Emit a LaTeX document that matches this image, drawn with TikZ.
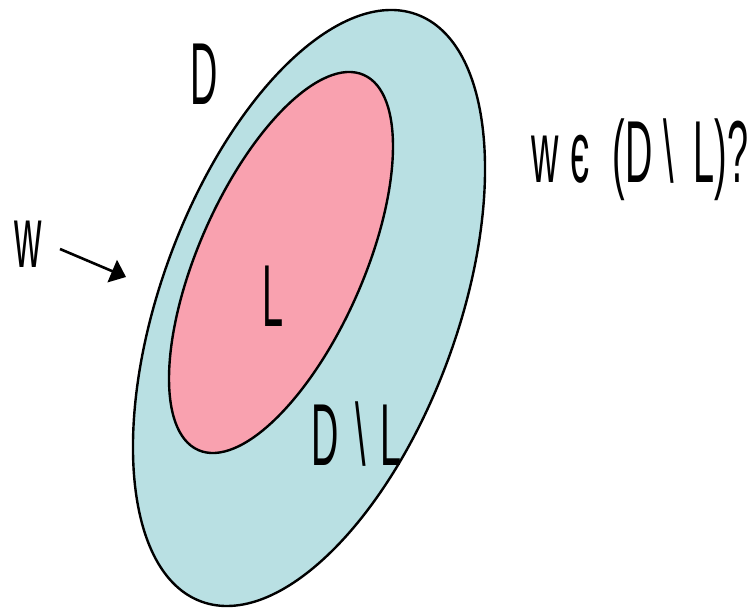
\documentclass[tikz,border=0pt]{standalone}
\usepackage{fontspec}
\usepackage{graphicx}
\setmainfont{Liberation Sans}
\usetikzlibrary{arrows.meta}
\definecolor{outerblue}{HTML}{B9E0E3}
\definecolor{innerpink}{HTML}{F9A1AF}
\newcommand{\narrow}[1]{\scalebox{0.43}[1]{\fontsize{88}{100}\selectfont #1}}
\tikzset{
  region/.style={draw=black, line width=2.4pt},
  lbl/.style={inner sep=0pt, outer sep=0pt, anchor=base},
  lblw/.style={inner sep=0pt, outer sep=0pt, anchor=base west},
  pointer/.style={line width=2.6pt, -{Triangle[length=15pt,width=24pt]}}
}
\begin{document}
\begin{tikzpicture}[x=1pt,y=1pt]
\useasboundingbox (0,0) rectangle (748,608);
% sets
\draw[region, fill=outerblue] (309,300) ellipse[x radius=312.7pt, y radius=148.3pt, rotate=69.85];
\draw[region, fill=innerpink] (281,345.5) ellipse[x radius=205pt, y radius=82.5pt, rotate=66.2];
% labels
\node[lbl] (dlab) at (204,503) {\narrow{D}};
\node[lbl] (llab) at (273,281) {\narrow{L}};
\node[lblw] (dllab) at (311,142) {\narrow{D\hspace{0.45em}\textbackslash\hspace{0.38em}L}};
\node[lblw] (wlab) at (14,340) {\narrow{w}};
\node[lblw] (question) at (531,425) {\narrow{w\hspace{0.05em} є\hspace{0.32em} (D \textbackslash\hspace{0.25em} L)?}};
% arrow
\coordinate (arrowstart) at (60,359);
\coordinate (arrowtip) at (126,331);
\draw[pointer] (arrowstart) -- (arrowtip);
\end{tikzpicture}
\end{document}
